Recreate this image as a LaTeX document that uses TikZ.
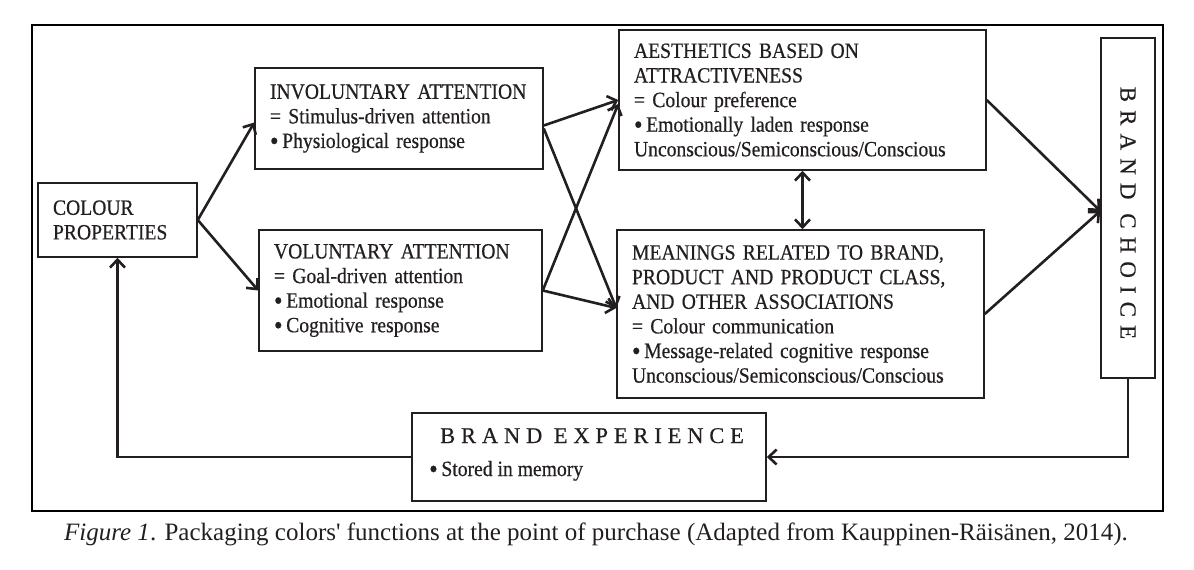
\documentclass[tikz,border=0pt]{standalone}
\usepackage{fontspec}
\usepackage{graphicx}
\setmainfont{Liberation Serif}
\newfontfamily\boxfont{Liberation Serif}[FakeStretch=0.9,FakeBold=0.5]
\newfontfamily\spacedA{Liberation Serif}[LetterSpace=26,FakeBold=0.4]
\newfontfamily\spacedB{Liberation Serif}[LetterSpace=35,FakeBold=0.4]
\newfontfamily\capfont{Liberation Serif}[Ligatures=TeXOff]
\newcommand\bul{\raisebox{-0.09em}{\scalebox{1.25}{•}}\,}
\usetikzlibrary{arrows.meta,calc}
\definecolor{ink}{RGB}{35,31,32}
\begin{document}
\begin{tikzpicture}[x=1pt,y=-1pt,
  box/.style={draw=ink, line width=1.5pt, inner xsep=15pt, inner ysep=0pt, align=left,
    text=ink, font=\boxfont\fontsize{21.8}{24.6}\selectfont, anchor=center},
  plain/.style={draw=ink, line width=1.5pt, anchor=center},
  txt/.style={inner sep=0pt, text=ink, font=\boxfont\fontsize{21.8}{24.6}\selectfont},
  arr/.style={draw=ink, line width=2.6pt, -{Straight Barb[length=8pt,width=15pt]}},
  darr/.style={draw=ink, line width=2.6pt, {Straight Barb[length=8pt,width=15pt]}-{Straight Barb[length=8pt,width=15pt]}},
]
\useasboundingbox (0,0) rectangle (1194,570);
\draw[line width=2.6pt, black] (32,25) rectangle (1163,511);

\node[box, minimum width=159pt, minimum height=74pt, text width=129pt] (colour) at (117.5,220)
  {COLOUR\\PROPERTIES};
\node[box, minimum width=288pt, minimum height=101pt, text width=258pt] (inv) at (399,118.5)
  {INVOLUNTARY ATTENTION\\= Stimulus-driven attention\\\bul Physiological response};
\node[box, minimum width=283pt, minimum height=121pt, text width=253pt] (vol) at (400.5,290.5)
  {VOLUNTARY ATTENTION\\= Goal-driven attention\\\bul Emotional response\\\bul Cognitive response};
\node[box, minimum width=367pt, minimum height=140pt, text width=337pt] (aes) at (802.5,100)
  {AESTHETICS BASED ON\\ATTRACTIVENESS\\= Colour preference\\\bul Emotionally laden response\\Unconscious/Semiconscious/Conscious};
\node[box, minimum width=367pt, minimum height=168pt, text width=337pt] (mean) at (800.5,314)
  {MEANINGS RELATED TO BRAND,\\PRODUCT AND PRODUCT CLASS,\\AND OTHER ASSOCIATIONS\\= Colour communication\\\bul Message-related cognitive response\\Unconscious/Semiconscious/Conscious};
\node[plain, minimum width=54pt, minimum height=340pt] (choice) at (1128,208) {};
\node[txt, rotate=-90, font=\spacedB\fontsize{23}{26}\selectfont] (choicetext) at (1128,213) {BRAND CHOICE};
\node[plain, minimum width=354pt, minimum height=88pt] (exp) at (589,457) {};
\node[txt, anchor=base west, font=\spacedA\fontsize{22.5}{26}\selectfont] (exptitle) at (440,443) {BRAND EXPERIENCE};
\node[txt, anchor=base west] (expitem) at (429,476) {\bul Stored in memory};

\node[txt, anchor=base, font=\capfont\fontsize{25}{28}\selectfont] (caption) at (596,540)
  {\textit{Figure 1}. Packaging colors' functions at the point of purchase (Adapted from Kauppinen-Räisänen, 2014).};

\draw[arr] (colour.east) -- ([yshift=-4pt]inv.west);
\draw[arr] (colour.east) -- (vol.west);
\draw[arr] ([yshift=-7pt]inv.east) -- (aes.west);
\draw[arr] ([yshift=-10pt]inv.east) -- ([yshift=6pt]mean.west);
\draw[arr] (vol.east) -- ([yshift=-4pt]aes.west);
\draw[arr] (vol.east) -- ([yshift=6pt]mean.west);
\draw[darr] (aes.south) -- (aes.south |- mean.north);
\draw[arr] (aes.east) -- ([yshift=-3pt]choice.west);
\draw[arr] (mean.east) -- ([yshift=-3pt]choice.west);
\draw[arr] (choice.south) |- (exp.east);
\draw[arr] (exp.west) -| (colour.south);
\end{tikzpicture}
\end{document}
